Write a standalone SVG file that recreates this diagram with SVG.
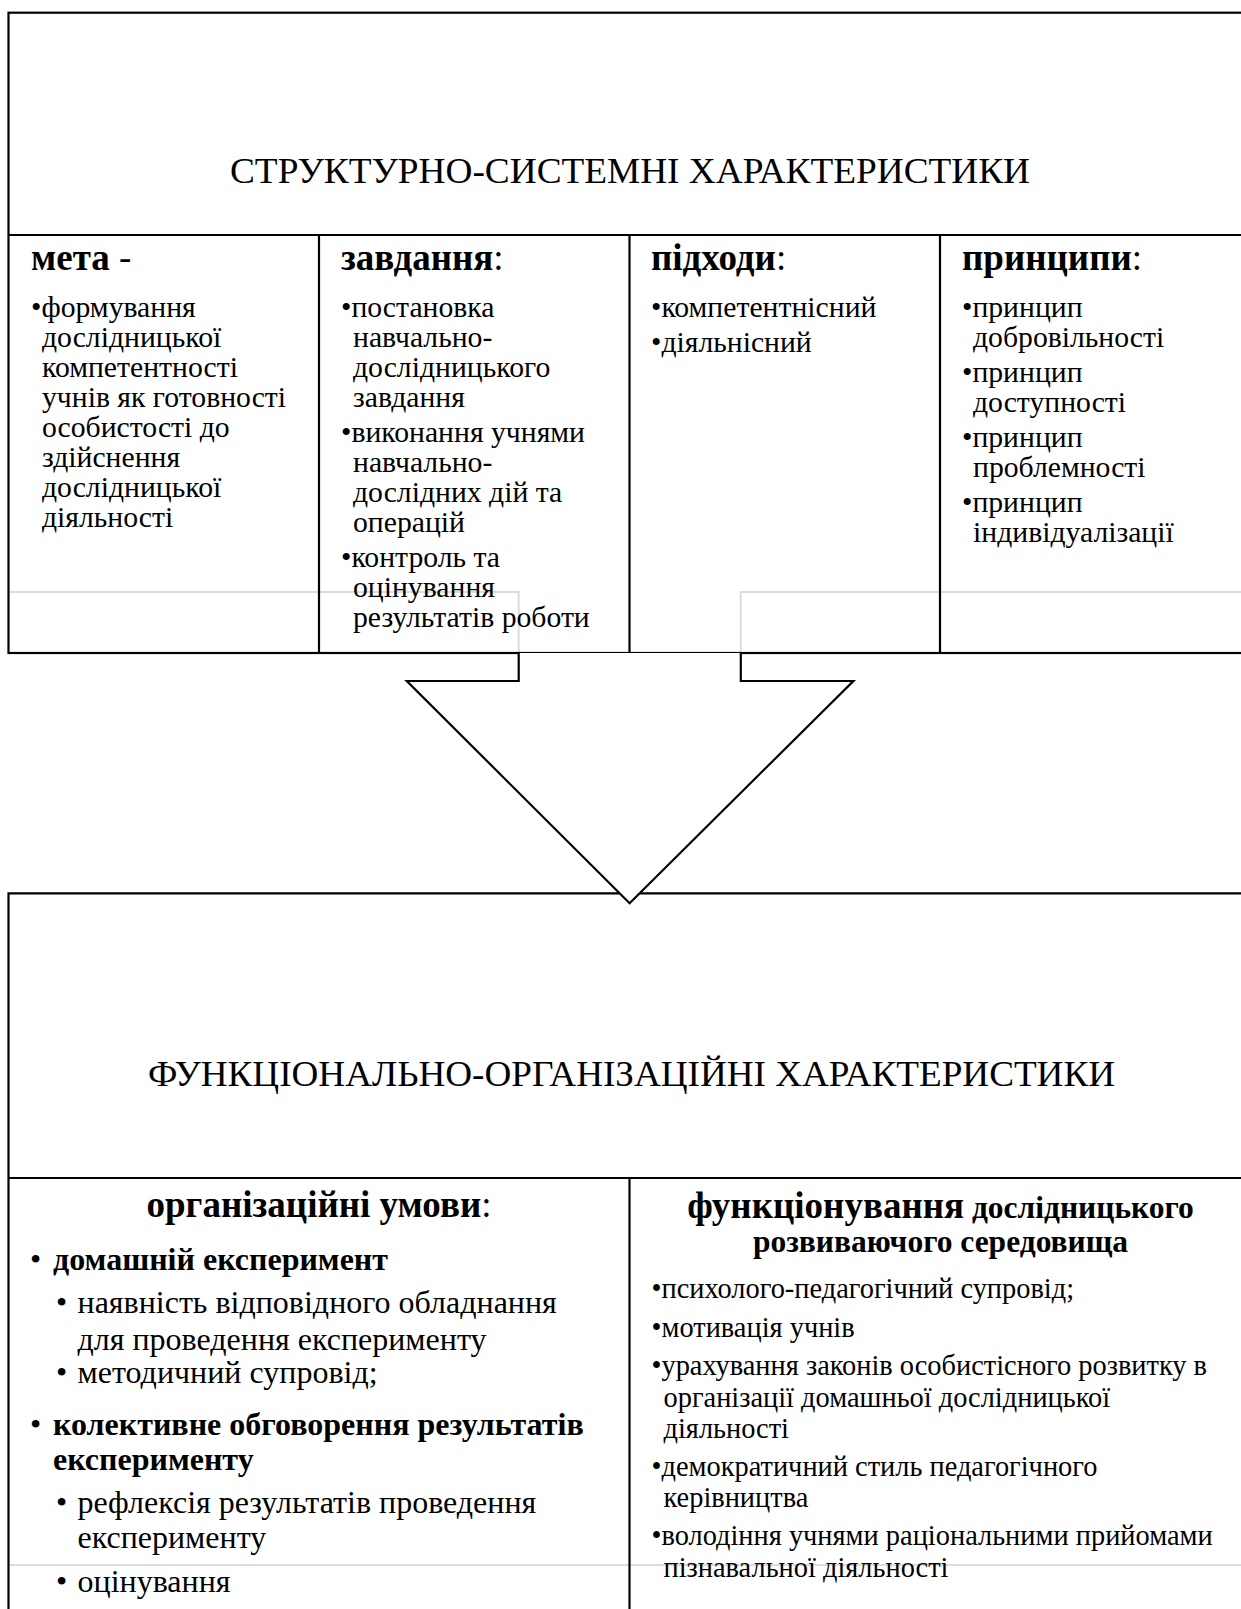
<svg xmlns="http://www.w3.org/2000/svg" width="1241" height="1609" viewBox="0 0 1241 1609">
<style>
.ln{fill:none;stroke:#000;stroke-width:2.2}
.gr{fill:none;stroke:#dcdcdc;stroke-width:2}
text{font-family:"Liberation Serif","Times New Roman",serif;fill:#000}
.ttl{font-size:36.5px}
.hd{font-size:37px;font-weight:bold}
.hs{font-size:31.5px;font-weight:bold}
.bd{font-size:29.7px}
.rb{font-size:28.4px}
.lb{font-size:32px;font-weight:bold}
.ls{font-size:32px}
.n{font-weight:normal}
</style>
<rect x="0" y="0" width="1241" height="1609" fill="#fff"/>
<g id="background-guides">
<path class="gr" d="M8.5,592 H518.7 V653"/>
<path class="gr" d="M1250,592 H740.8 V653"/>
<path class="gr" d="M8.5,1565 H1250"/>
</g>
<g id="node-structural">
<rect class="ln" x="8.5" y="12.7" width="1250" height="640.3"/>
<line class="ln" x1="8.5" y1="235" x2="1250" y2="235"/>
<text class="ttl" x="230" y="183" textLength="800" lengthAdjust="spacingAndGlyphs">СТРУКТУРНО-СИСТЕМНІ ХАРАКТЕРИСТИКИ</text>
</g>
<g id="node-meta">
<line class="ln" x1="319" y1="235" x2="319" y2="653"/>
<text class="hd" x="31" y="270">мета<tspan class="n"> -</tspan></text>
<text class="bd" x="31" y="316.7">•формування</text>
<text class="bd" x="42" y="346.7">дослідницької</text>
<text class="bd" x="42" y="376.7">компетентності</text>
<text class="bd" x="42" y="406.7">учнів як готовності</text>
<text class="bd" x="42" y="436.7">особистості до</text>
<text class="bd" x="42" y="466.7">здійснення</text>
<text class="bd" x="42" y="496.7">дослідницької</text>
<text class="bd" x="42" y="526.7">діяльності</text>
</g>
<g id="node-zavdannia">
<line class="ln" x1="629.5" y1="235" x2="629.5" y2="653"/>
<text class="hd" x="341" y="270">завдання<tspan class="n">:</tspan></text>
<text class="bd" x="341" y="316.7">•постановка</text>
<text class="bd" x="353" y="346.7">навчально-</text>
<text class="bd" x="353" y="376.7">дослідницького</text>
<text class="bd" x="353" y="406.7">завдання</text>
<text class="bd" x="341" y="441.7">•виконання учнями</text>
<text class="bd" x="353" y="471.7">навчально-</text>
<text class="bd" x="353" y="501.7">дослідних дій та</text>
<text class="bd" x="353" y="531.7">операцій</text>
<text class="bd" x="341" y="566.7">•контроль та</text>
<text class="bd" x="353" y="596.7">оцінування</text>
<text class="bd" x="353" y="626.7">результатів роботи</text>
</g>
<g id="node-pidkhody">
<line class="ln" x1="940" y1="235" x2="940" y2="653"/>
<text class="hd" x="651" y="270">підходи<tspan class="n">:</tspan></text>
<text class="bd" x="651" y="316.7">•компетентнісний</text>
<text class="bd" x="651" y="351.7">•діяльнісний</text>
</g>
<g id="node-pryntsypy">
<text class="hd" x="962" y="270">принципи<tspan class="n">:</tspan></text>
<text class="bd" x="962" y="316.7">•принцип</text>
<text class="bd" x="973" y="346.7">добровільності</text>
<text class="bd" x="962" y="381.7">•принцип</text>
<text class="bd" x="973" y="411.7">доступності</text>
<text class="bd" x="962" y="446.7">•принцип</text>
<text class="bd" x="973" y="476.7">проблемності</text>
<text class="bd" x="962" y="511.7">•принцип</text>
<text class="bd" x="973" y="541.7">індивідуалізації</text>
</g>
<g id="node-functional">
<path class="ln" d="M8.5,1615 V893.3 H1250"/>
<line class="ln" x1="8.5" y1="1178" x2="1250" y2="1178"/>
<text class="ttl" x="148" y="1086" textLength="967" lengthAdjust="spacingAndGlyphs">ФУНКЦІОНАЛЬНО-ОРГАНІЗАЦІЙНІ ХАРАКТЕРИСТИКИ</text>
</g>
<g id="node-org-umovy">
<line class="ln" x1="629.5" y1="1178" x2="629.5" y2="1615"/>
<text class="hd" x="319" y="1216.7" text-anchor="middle">організаційні умови<tspan class="n">:</tspan></text>
<text class="ls" x="30" y="1270">•</text>
<text class="lb" x="53" y="1270">домашній експеримент</text>
<text class="ls" x="56" y="1313">•</text>
<text class="ls" x="77.5" y="1313">наявність відповідного обладнання</text>
<text class="ls" x="77.5" y="1350">для проведення експерименту</text>
<text class="ls" x="56" y="1383">•</text>
<text class="ls" x="77.5" y="1383">методичний супровід;</text>
<text class="ls" x="30" y="1435">•</text>
<text class="lb" x="53" y="1435">колективне обговорення результатів</text>
<text class="lb" x="53" y="1470">експерименту</text>
<text class="ls" x="56" y="1513">•</text>
<text class="ls" x="77.5" y="1513">рефлексія результатів проведення</text>
<text class="ls" x="77.5" y="1548">експерименту</text>
<text class="ls" x="56" y="1591.7">•</text>
<text class="ls" x="77.5" y="1591.7">оцінування</text>
</g>
<g id="node-funktsionuvannia">
<text class="hd" x="940.5" y="1218" text-anchor="middle">функціонування<tspan class="hs"> дослідницького</tspan></text>
<text class="hs" x="940.5" y="1251.7" text-anchor="middle">розвиваючого середовища</text>
<text class="rb" x="651.5" y="1298">•психолого-педагогічний супровід;</text>
<text class="rb" x="651.5" y="1336.5">•мотивація учнів</text>
<text class="rb" x="651.5" y="1375">•урахування законів особистісного розвитку в</text>
<text class="rb" x="663.5" y="1406.5">організації домашньої дослідницької</text>
<text class="rb" x="663.5" y="1438">діяльності</text>
<text class="rb" x="651.5" y="1475.5">•демократичний стиль педагогічного</text>
<text class="rb" x="663.5" y="1507">керівництва</text>
<text class="rb" x="651.5" y="1545">•володіння учнями раціональними прийомами</text>
<text class="rb" x="663.5" y="1576.5">пізнавальної діяльності</text>
</g>
<g id="connectors">
<path d="M518.7,653 V681 H406.8 L629.6,903.3 L853.4,681 H740.8 V653 Z" fill="#fff" stroke="none"/>
<path class="ln" d="M518.7,653 V681 H406.8 L629.6,903.3 L853.4,681 H740.8 V653"/>
</g>
</svg>
